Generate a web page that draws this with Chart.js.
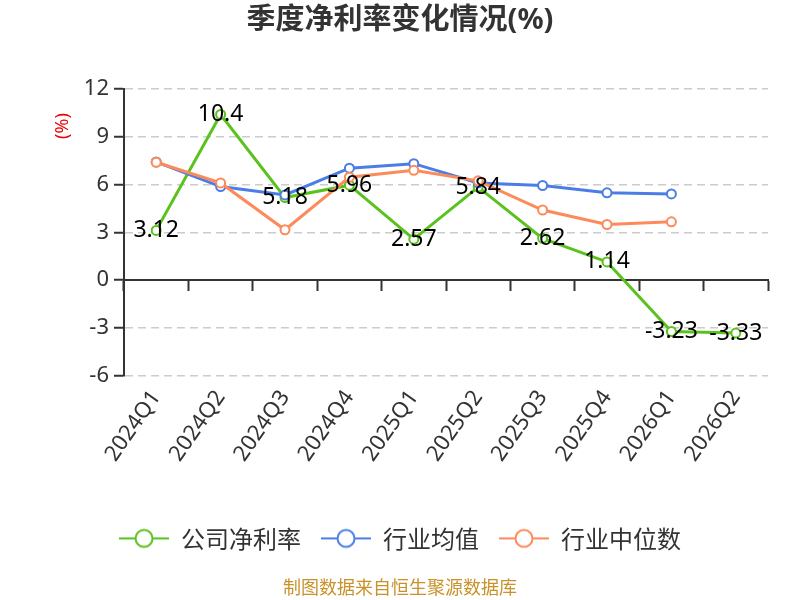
<!DOCTYPE html>
<html>
<head>
<meta charset="utf-8">
<script src="https://cdn.jsdelivr.net/npm/chart.js@4/dist/chart.umd.min.js"></script>
<style>
  html, body { margin: 0; padding: 0; background: #fff; }
  #wrap { width: 800px; height: 600px; }
</style>
</head>
<body>
<div id="wrap"><canvas id="chart"></canvas></div>
<script>
let quarters = ['2024Q1', '2024Q2', '2024Q3', '2024Q4', '2025Q1', '2025Q2', '2025Q3', '2025Q4', '2026Q1', '2026Q2'],
    companyRate = [3.12, 10.4, 5.18, 5.96, 2.57, 5.84, 2.62, 1.14, -3.23, -3.33],
    industryAvg = [7.42, 5.87, 5.35, 7.03, 7.31, 6.1, 5.94, 5.48, 5.41, null],
    industryMedian = [7.4, 6.1, 3.16, 6.46, 6.89, 6.23, 4.4, 3.49, 3.66, null],
    seriesNames = ['公司净利率', '行业均值', '行业中位数'],
    colors = ['#5ac21c', '#4a7ee6', '#fd8a5a'],
    yTicks = [-6, -3, 0, 3, 6, 9, 12];

Chart.defaults.font.family = '"Noto Sans", "Noto Sans CJK SC", sans-serif';
Chart.defaults.color = '#333';

// legend icon: short line with an empty circle on it
function legendIcon(color) {
    let c = document.createElement('canvas');
    c.width = 50;
    c.height = 22;
    let g = c.getContext('2d');
    g.strokeStyle = color;
    g.lineWidth = 2;
    g.beginPath();
    g.moveTo(0, 11);
    g.lineTo(50, 11);
    g.stroke();
    g.beginPath();
    g.arc(25, 11, 8.5, 0, Math.PI * 2);
    g.fillStyle = '#fff';
    g.fill();
    g.stroke();
    return c;
}

function makeSet(index, values, order) {
    return {
        label: seriesNames[index],
        data: values,
        borderColor: colors[index],
        backgroundColor: '#fff',
        borderWidth: 3,
        pointRadius: 4.5,
        pointHoverRadius: 4.5,
        pointBorderWidth: 2,
        pointBackgroundColor: '#fff',
        pointBorderColor: colors[index],
        tension: 0,
        spanGaps: false,
        order: order
    };
}

// values of the company series written on top of its points
const pointLabels = {
    id: 'pointLabels',
    afterDatasetsDraw(chart) {
        let ctx = chart.ctx,
            meta = chart.getDatasetMeta(0);
        ctx.save();
        ctx.font = '23px "Noto Sans", sans-serif';
        ctx.fillStyle = '#000';
        ctx.textAlign = 'center';
        ctx.textBaseline = 'middle';
        meta.data.forEach(function (pt, i) {
            ctx.fillText(String(companyRate[i]), pt.x, pt.y);
        });
        ctx.restore();
    }
};

// "(%)" unit mark next to the y axis
const unitMark = {
    id: 'unitMark',
    afterDraw(chart) {
        let ctx = chart.ctx;
        ctx.save();
        ctx.translate(63, chart.chartArea.top + 37);
        ctx.rotate(-Math.PI / 2);
        ctx.font = '18px "Noto Sans", sans-serif';
        ctx.fillStyle = '#e00';
        ctx.textAlign = 'center';
        ctx.textBaseline = 'middle';
        ctx.fillText('(%)', 0, 0);
        ctx.restore();
    }
};

new Chart(document.getElementById('chart'), {
    type: 'line',
    data: {
        labels: quarters,
        datasets: [
            makeSet(0, companyRate, 3),
            makeSet(1, industryAvg, 2),
            makeSet(2, industryMedian, 1)
        ]
    },
    options: {
        responsive: true,
        maintainAspectRatio: false,
        animation: false,
        layout: { padding: { left: 32, right: 32, top: 0, bottom: 0 } },
        plugins: {
            tooltip: { enabled: false },
            title: {
                display: true,
                text: '季度净利率变化情况(%)',
                color: '#333',
                font: { size: 29, weight: 'bold', family: '"Noto Sans", "Noto Sans CJK SC", sans-serif', lineHeight: 1.1 },
                padding: { top: 5, bottom: 52.1 }
            },
            legend: {
                position: 'bottom',
                labels: {
                    usePointStyle: true,
                    pointStyleWidth: 50,
                    boxHeight: 20,
                    padding: 20,
                    color: '#333',
                    font: { size: 24, family: '"Noto Sans CJK SC", sans-serif' },
                    generateLabels(chart) {
                        return chart.data.datasets.map(function (ds, i) {
                            return {
                                text: ds.label,
                                pointStyle: legendIcon(colors[i]),
                                fillStyle: '#fff',
                                strokeStyle: colors[i],
                                lineWidth: 0,
                                fontColor: '#333',
                                hidden: false,
                                datasetIndex: i
                            };
                        });
                    }
                }
            },
            subtitle: {
                display: true,
                position: 'bottom',
                text: '制图数据来自恒生聚源数据库',
                color: '#c8922a',
                font: { size: 18, family: '"Noto Sans CJK SC", sans-serif' },
                padding: { top: 16, bottom: 2 }
            }
        },
        scales: {
            x: {
                type: 'category',
                offset: true,
                grid: { display: false, offset: true },
                border: { display: false },
                ticks: {
                    color: '#333',
                    font: { size: 22 },
                    minRotation: 55,
                    maxRotation: 55,
                    padding: 2,
                    autoSkip: false
                },
                afterFit(s) { s.height = 130.8; }
            },
            x0: {
                type: 'category',
                position: { y: 0 },
                offset: true,
                grid: {
                    offset: true,
                    drawOnChartArea: false,
                    tickLength: 10,
                    tickColor: '#333',
                    tickWidth: 2
                },
                border: { color: '#333', width: 2 },
                ticks: { display: false }
            },
            y: {
                min: -6,
                max: 12,
                afterBuildTicks(s) { s.ticks = yTicks.map(v => ({ value: v })); },
                ticks: { color: '#333', font: { size: 22 }, padding: 5 },
                grid: {
                    color: c => (c.tick && c.tick.value === 0) ? 'rgba(0,0,0,0)' : '#ccc',
                    lineWidth: 1.5,
                    tickLength: 10,
                    tickColor: '#333',
                    tickWidth: 2,
                    tickBorderDash: []
                },
                border: { color: '#333', width: 2, dash: [8, 5] },
                afterFit(s) { s.width = 92; }
            }
        }
    },
    plugins: [pointLabels, unitMark]
});
</script>
</body>
</html>
